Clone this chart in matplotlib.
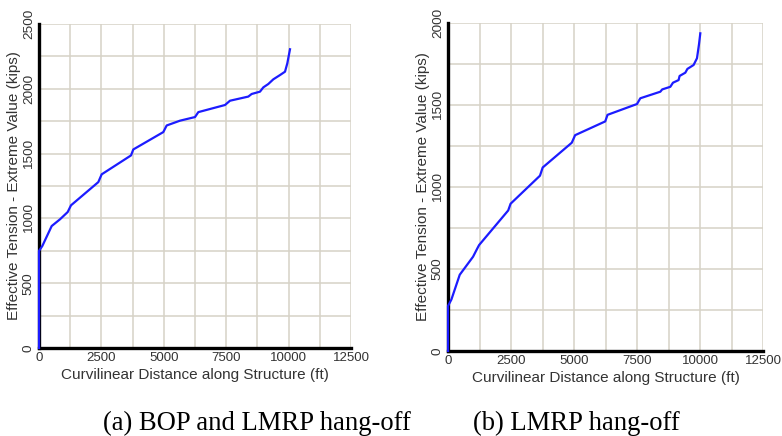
import matplotlib
matplotlib.use("Agg")
import matplotlib.pyplot as plt
from matplotlib.ticker import MultipleLocator

# ---- data ----
dist_a = [0, 0, 133, 508, 841, 1149, 1282, 2376, 2511, 3686, 3778, 4980, 5115, 5649,
          6250, 6383, 7452, 7652, 8386, 8520, 8854, 8987, 9187, 9387, 9655, 9856, 9949, 10056]
tens_a = [0, 749, 787, 941, 993, 1049, 1101, 1280, 1340, 1486, 1532, 1666, 1717, 1754,
          1782, 1820, 1875, 1908, 1940, 1960, 1978, 2011, 2037, 2073, 2106, 2132, 2197, 2305]

dist_b = [0, 0, 135, 466, 995, 1131, 1234, 2389, 2484, 3650, 3758, 4912, 5044, 6240,
          6330, 7500, 7631, 8425, 8500, 8822, 8928, 9151, 9190, 9417, 9500, 9746, 9880, 9960, 10012]
tens_b = [0, 274, 314, 465, 575, 616, 646, 857, 898, 1069, 1119, 1270, 1316, 1400,
          1440, 1506, 1541, 1581, 1595, 1611, 1636, 1652, 1677, 1697, 1720, 1744, 1785, 1870, 1937]

x_ticks = [0, 2500, 5000, 7500, 10000, 12500]
y_ticks_a = [0, 500, 1000, 1500, 2000, 2500]
y_ticks_b = [0, 500, 1000, 1500, 2000]

xlabel = "Curvilinear Distance along Structure (ft)"
ylabel = "Effective Tension - Extreme Value (kips)"
captions = ["(a) BOP and LMRP hang-off", "(b) LMRP hang-off"]

LINE = "#1c1cff"
GRID = "#d6d2c6"
TXT = "#333333"
sans = ["Liberation Sans", "DejaVu Sans"]

fig = plt.figure(figsize=(7.82, 4.36), dpi=100)
W, H = 782, 436


def make_ax(l, r, t, b):
    return fig.add_axes([l / W, 1 - b / H, (r - l) / W, (b - t) / H])


ax_a = make_ax(39, 351, 24, 348)
ax_b = make_ax(448, 763, 23, 351)

panels = [(ax_a, dist_a, tens_a, y_ticks_a, 2500),
          (ax_b, dist_b, tens_b, y_ticks_b, 2000)]

for ax, xs, ys, yt, ymax in panels:
    ax.set_xlim(0, 12500)
    ax.set_ylim(0, ymax)
    ax.set_xticks(x_ticks)
    ax.xaxis.set_minor_locator(MultipleLocator(1250))
    ax.set_yticks(yt)
    ax.yaxis.set_minor_locator(MultipleLocator(250))
    ax.grid(True, which="both", color=GRID, linewidth=1.1)
    ax.set_axisbelow(True)
    for s in ("top", "right"):
        ax.spines[s].set_visible(False)
    for s in ("left", "bottom"):
        ax.spines[s].set_linewidth(2.4)
        ax.spines[s].set_color("black")
        ax.spines[s].set_zorder(5)
    ax.tick_params(which="both", length=0)
    ax.tick_params(axis="x", pad=3, labelcolor=TXT)
    ax.tick_params(axis="y", pad=3, labelcolor=TXT)
    ax.set_xticklabels([str(v) for v in x_ticks], family=sans, size=9.5)
    ax.set_yticklabels([str(v) for v in yt], family=sans, size=9.7, rotation=90, va="center")
    ax.set_xlabel(xlabel, family=sans, size=11, color=TXT, labelpad=3)
    ax.set_ylabel(ylabel, family=sans, size=11, color=TXT, labelpad=1)
    ax.plot(xs, ys, color=LINE, linewidth=1.6, clip_on=False, zorder=6)

fig.text(103 / W, 6 / H, captions[0], family="Liberation Serif", size=19.2, va="baseline", ha="left")
fig.text(473 / W, 6 / H, captions[1], family="Liberation Serif", size=19.2, va="baseline", ha="left")

fig.savefig("out.png", dpi=100)
